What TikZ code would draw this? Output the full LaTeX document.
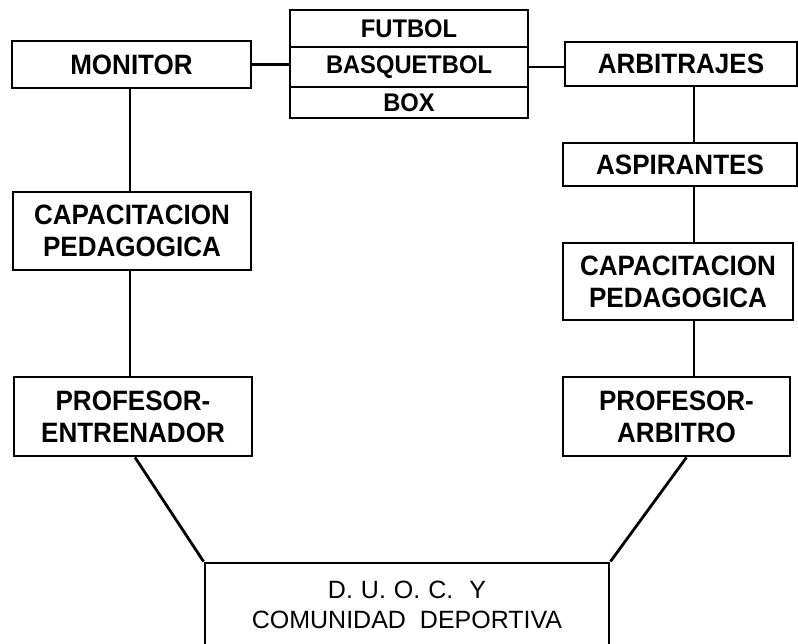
\documentclass[tikz,border=0pt]{standalone}
\usepackage{fontspec}
\setmainfont{Liberation Sans}
\newfontfamily\bfont[FakeStretch=0.93]{Liberation Sans}
\begin{document}
\begin{tikzpicture}[x=1pt,y=-1pt,
  boxs/.style={draw, line width=2.8pt, inner sep=0pt, align=center,
    font=\bfont\bfseries\fontsize{28}{32}\selectfont},
  sport/.style={boxs, minimum width=238pt, font=\bfont\bfseries\fontsize{25.5}{30}\selectfont},
  conn/.style={line width=2.8pt}]
\useasboundingbox (0,0) rectangle (798,644);
% top row
\node[boxs, minimum width=239pt, minimum height=47pt] (mon) at (131.5,64.5) {MONITOR};
\node[sport, minimum height=37pt] (fut) at (409,28.5) {FUTBOL};
\node[sport, minimum height=40pt] (basq) at (409,67) {BASQUETBOL};
\node[sport, minimum height=31pt] (bx) at (409,102.5) {BOX};
\node[boxs, minimum width=232pt, minimum height=44pt] (arb) at (681,64) {ARBITRAJES};
% right column
\node[boxs, minimum width=234pt, minimum height=43pt] (asp) at (680,164.5) {ASPIRANTES};
\node[boxs, minimum width=230pt, minimum height=77pt] (capr) at (678,281.5) {CAPACITACION\\PEDAGOGICA};
\node[boxs, minimum width=227pt, minimum height=79pt] (profr) at (676.5,416.5) {PROFESOR-\\ARBITRO};
% left column
\node[boxs, minimum width=238pt, minimum height=78pt] (capl) at (132,231) {CAPACITACION\\PEDAGOGICA};
\node[boxs, minimum width=238pt, minimum height=79pt] (profl) at (133,416.5) {PROFESOR-\\ENTRENADOR};
% bottom
\node[draw, line width=2.8pt, inner sep=0pt, align=center,
  minimum width=404pt, minimum height=84pt,
  font=\fontsize{25}{30}\selectfont] (bot) at (407,605)
  {D.\hspace{8pt}U.\hspace{8pt}O.\hspace{8pt}C.\hspace{16pt}Y\\COMUNIDAD\hspace{14pt}DEPORTIVA};
% connectors
\draw[conn] (mon.east) -- (mon.east -| basq.west);
\draw[conn] (basq.east) -- (basq.east -| arb.west);
\draw[conn] ([xshift=-1.5pt]mon.south) -- ([xshift=-1.5pt]mon.south |- capl.north);
\draw[conn] ([xshift=-2pt]capl.south) -- ([xshift=-2pt]capl.south |- profl.north);
\draw[conn] ([xshift=13pt]arb.south) -- ([xshift=13pt]arb.south |- asp.north);
\draw[conn] ([xshift=14pt]asp.south) -- ([xshift=14pt]asp.south |- capr.north);
\draw[conn] ([xshift=16pt]capr.south) -- ([xshift=16pt]capr.south |- profr.north);
\draw[conn] ([xshift=2pt]profl.south) -- (bot.north west);
\draw[conn] ([xshift=10pt]profr.south) -- (bot.north east);
\end{tikzpicture}
\end{document}
